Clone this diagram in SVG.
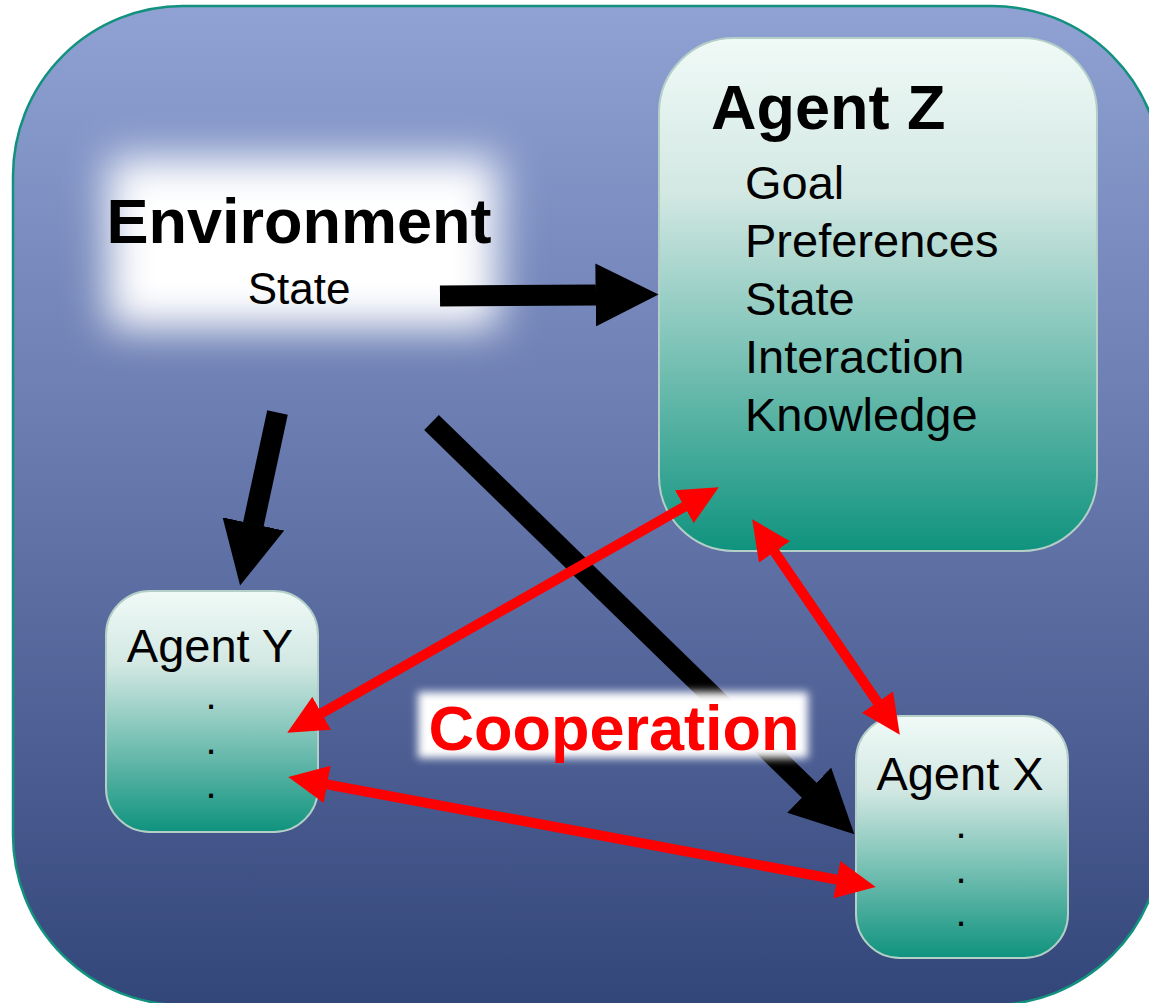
<svg xmlns="http://www.w3.org/2000/svg" width="1149" height="1003" viewBox="0 0 1149 1003">
<defs>
<linearGradient id="bgGrad" x1="0" y1="0" x2="0" y2="1">
<stop offset="0" stop-color="#8fa2d3"/>
<stop offset="0.5" stop-color="#6475aa"/>
<stop offset="1" stop-color="#33467a"/>
</linearGradient>
<linearGradient id="boxGrad" x1="0" y1="0" x2="0" y2="1">
<stop offset="0" stop-color="#f0faf7"/>
<stop offset="0.3" stop-color="#d3e8e3"/>
<stop offset="1" stop-color="#0f937e"/>
</linearGradient>
<filter id="glow" x="-50%" y="-100%" width="200%" height="300%">
<feGaussianBlur stdDeviation="21"/>
</filter>
<filter id="glowSmall" x="-10%" y="-30%" width="120%" height="160%">
<feGaussianBlur stdDeviation="4"/>
</filter>
<marker id="blackHead" viewBox="0 0 3 3" markerWidth="3" markerHeight="3" refX="0.02" refY="1.5" orient="auto">
<path d="M0,0 L3,1.5 L0,3 z" fill="#000"/>
</marker>
<marker id="redHead" viewBox="0 0 3.96 3.78" markerWidth="3.96" markerHeight="3.78" refX="0.03" refY="1.89" orient="auto-start-reverse">
<path d="M0,0 L3.96,1.89 L0,3.78 z" fill="#ff0000"/>
</marker>
</defs>
<style>
.box { fill: url(#boxGrad); stroke: #b3cfc7; stroke-width: 2; }
.title { font-family: "Liberation Sans", Arial, sans-serif; font-weight: bold; fill: #000; }
.txt { font-family: "Liberation Sans", Arial, sans-serif; fill: #000; }
.blk { stroke: #000; stroke-width: 21; fill: none; marker-end: url(#blackHead); }
.red { stroke: #ff0000; stroke-width: 10; fill: none; marker-start: url(#redHead); marker-end: url(#redHead); }
</style>

<g id="background">
<rect x="13" y="6" width="1149" height="999" rx="170" ry="170" fill="url(#bgGrad)" stroke="#12917f" stroke-width="2.5"/>
</g>

<g id="environment">
<rect x="108" y="158" width="390" height="170" fill="#ffffff" filter="url(#glow)"/>
<text class="title" x="299" y="243" font-size="63" text-anchor="middle">Environment</text>
<text class="txt" x="299" y="304" font-size="44" text-anchor="middle">State</text>
</g>

<g id="agentZ">
<rect class="box" x="659" y="38" width="438" height="513" rx="75" ry="75"/>
<text class="title" x="711" y="129" font-size="63">Agent Z</text>
<text class="txt" x="745" y="199" font-size="47">Goal</text>
<text class="txt" x="745" y="257" font-size="47">Preferences</text>
<text class="txt" x="745" y="315" font-size="47">State</text>
<text class="txt" x="745" y="373" font-size="47">Interaction</text>
<text class="txt" x="745" y="431" font-size="47">Knowledge</text>
</g>

<g id="agentY">
<rect class="box" x="106" y="591" width="212" height="241" rx="44" ry="44"/>
<text class="txt" x="210" y="662" font-size="47" text-anchor="middle">Agent Y</text>
<text class="txt" x="211" y="709" font-size="40" text-anchor="middle">.</text>
<text class="txt" x="211" y="754" font-size="40" text-anchor="middle">.</text>
<text class="txt" x="211" y="798" font-size="40" text-anchor="middle">.</text>
</g>

<g id="agentX">
<rect class="box" x="856" y="716" width="212" height="242" rx="44" ry="44"/>
<text class="txt" x="960" y="790" font-size="47" text-anchor="middle">Agent X</text>
<text class="txt" x="961" y="838" font-size="40" text-anchor="middle">.</text>
<text class="txt" x="961" y="883" font-size="40" text-anchor="middle">.</text>
<text class="txt" x="961" y="926" font-size="40" text-anchor="middle">.</text>
</g>

<g id="connectors">
<line class="blk" x1="440" y1="296" x2="596" y2="295"/>
<line class="blk" x1="277.5" y1="412.5" x2="253.3" y2="524.4"/>
<line class="blk" x1="431.5" y1="422.5" x2="809.5" y2="790.5"/>
<line class="red" x1="321.4" y1="713.4" x2="684.6" y2="506.6"/>
<line class="red" x1="326.9" y1="784.3" x2="837.1" y2="879.7"/>
<line class="red" x1="774.4" y1="551.7" x2="877.6" y2="702.3"/>
</g>

<g id="cooperation">
<rect x="418" y="692" width="390" height="66" fill="#ffffff" filter="url(#glowSmall)"/>
<text class="title" x="614" y="750" font-size="63" text-anchor="middle" style="fill:#ff0000">Cooperation</text>
</g>
</svg>
